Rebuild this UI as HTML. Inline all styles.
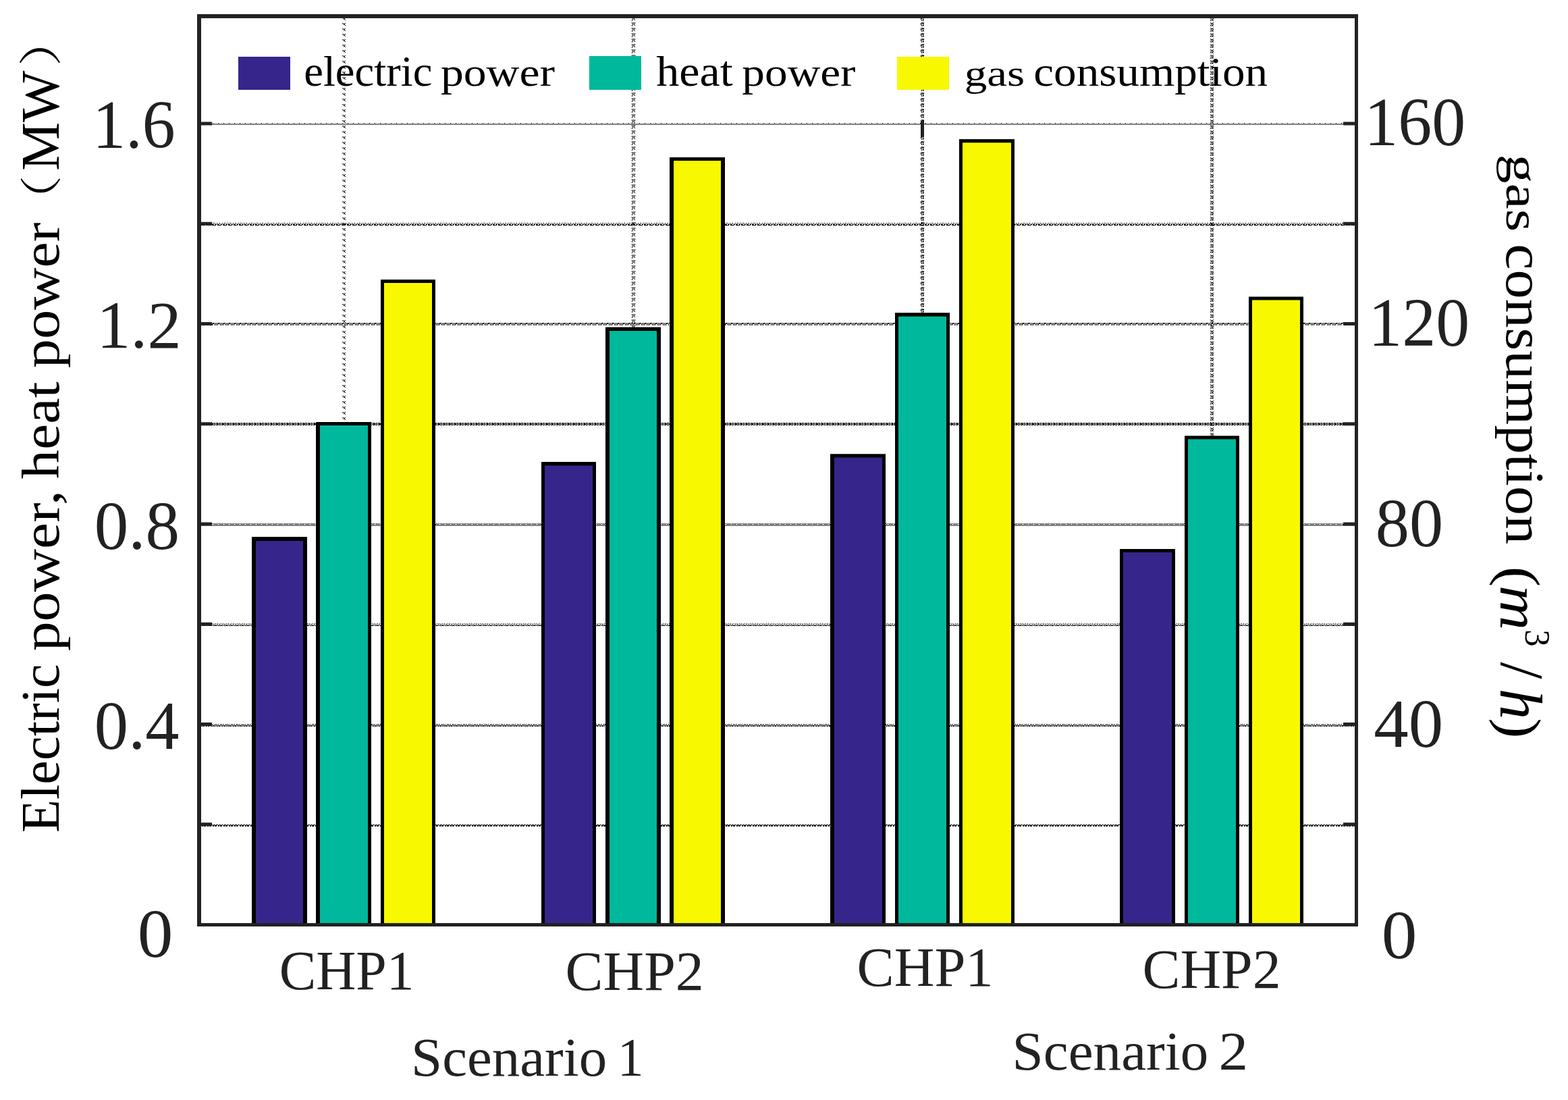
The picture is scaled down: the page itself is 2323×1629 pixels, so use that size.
<!DOCTYPE html>
<html lang="en">
<head>
<meta charset="utf-8">
<title>CHP electric power, heat power and gas consumption by scenario</title>
<style>
html,body{margin:0;padding:0;background:#fff;}
body{width:2323px;height:1629px;overflow:hidden;}
svg{display:block;}
text{white-space:pre;}
</style>
</head>
<body>
<svg xmlns="http://www.w3.org/2000/svg" width="2323" height="1629" viewBox="0 0 2323 1629">
<defs>
<pattern id="h0" x="4" y="182" width="8" height="3" patternUnits="userSpaceOnUse"><path d="M7 0h1v1h-1zM1 1h1v1h-1zM3 1h1v1h-1zM5 1h1v1h-1zM7 1h1v1h-1zM0 2h1v1h-1zM2 2h1v1h-1zM4 2h1v1h-1zM6 2h1v1h-1z" fill="#000"/></pattern>
<pattern id="h1" x="4" y="330" width="8" height="4" patternUnits="userSpaceOnUse"><path d="M0 0h2v1h-2zM5 0h1v1h-1zM3 1h1v1h-1zM6 1h1v1h-1zM0 2h1v1h-1zM3 2h2v1h-2zM6 2h2v1h-2zM0 3h4v1h-4zM6 3h2v1h-2z" fill="#000"/></pattern>
<pattern id="h2" x="4" y="478" width="8" height="4" patternUnits="userSpaceOnUse"><path d="M0 0h2v1h-2zM3 0h1v1h-1zM5 0h1v1h-1zM7 0h1v1h-1zM0 1h1v1h-1zM2 1h1v1h-1zM4 1h1v1h-1zM6 1h2v1h-2zM2 2h1v1h-1zM4 2h1v1h-1zM6 2h1v1h-1zM2 3h1v1h-1zM4 3h1v1h-1zM6 3h1v1h-1z" fill="#000"/></pattern>
<pattern id="h3" x="4" y="626" width="8" height="4" patternUnits="userSpaceOnUse"><path d="M0 0h3v1h-3zM4 0h3v1h-3zM1 1h1v1h-1zM3 1h1v1h-1zM5 1h3v1h-3zM1 2h1v1h-1zM3 2h1v1h-1zM5 2h3v1h-3zM0 3h3v1h-3zM4 3h3v1h-3z" fill="#000"/></pattern>
<pattern id="h4" x="4" y="775" width="8" height="4" patternUnits="userSpaceOnUse"><path d="M0 0h1v1h-1zM2 0h1v1h-1zM4 0h1v1h-1zM6 0h1v1h-1zM1 1h1v1h-1zM3 1h1v1h-1zM5 1h1v1h-1zM1 2h1v1h-1zM3 2h1v1h-1zM5 2h1v1h-1zM7 2h1v1h-1zM0 3h1v1h-1zM2 3h1v1h-1zM4 3h1v1h-1zM6 3h1v1h-1z" fill="#000"/></pattern>
<pattern id="h5" x="4" y="923" width="8" height="4" patternUnits="userSpaceOnUse"><path d="M3 0h1v1h-1zM6 0h1v1h-1zM0 1h2v1h-2zM5 1h1v1h-1zM3 2h1v1h-1zM6 2h1v1h-1zM0 3h6v1h-6zM7 3h1v1h-1z" fill="#000"/></pattern>
<pattern id="h6" x="4" y="1072" width="8" height="4" patternUnits="userSpaceOnUse"><path d="M2 0h1v1h-1zM4 0h1v1h-1zM7 0h1v1h-1zM2 1h1v1h-1zM4 1h1v1h-1zM6 1h1v1h-1zM0 2h2v1h-2zM3 2h1v1h-1zM5 2h1v1h-1zM7 2h1v1h-1zM0 3h2v1h-2zM3 3h1v1h-1zM5 3h2v1h-2z" fill="#000"/></pattern>
<pattern id="h7" x="4" y="1221" width="8" height="3" patternUnits="userSpaceOnUse"><path d="M0 0h3v1h-3zM4 0h3v1h-3zM0 1h1v1h-1zM2 1h3v1h-3zM7 1h1v1h-1zM0 2h1v1h-1zM2 2h3v1h-3zM7 2h1v1h-1z" fill="#000"/></pattern>
<pattern id="v0" x="507" y="2" width="5" height="8" patternUnits="userSpaceOnUse"><path d="M0 0h1v1h-1zM2 0h1v1h-1zM4 0h1v1h-1zM1 1h1v1h-1zM3 1h1v1h-1zM2 2h2v1h-2zM4 3h1v1h-1z" fill="#000"/></pattern>
<pattern id="v1" x="936" y="1" width="5" height="8" patternUnits="userSpaceOnUse"><path d="M0 0h1v1h-1zM2 0h1v1h-1zM4 0h1v1h-1zM0 1h1v1h-1zM2 1h1v1h-1zM4 1h1v1h-1zM1 2h1v1h-1zM3 2h1v1h-1zM1 3h1v1h-1zM3 3h1v1h-1zM0 4h1v1h-1zM4 4h1v1h-1zM0 5h1v1h-1z" fill="#000"/></pattern>
<pattern id="v2" x="1364" y="1" width="5" height="8" patternUnits="userSpaceOnUse"><path d="M1 0h2v1h-2zM4 0h1v1h-1zM0 1h1v1h-1zM2 1h3v1h-3zM0 2h2v1h-2zM3 2h1v1h-1zM0 3h1v1h-1zM3 3h1v1h-1zM1 4h1v1h-1zM3 4h2v1h-2zM1 5h1v1h-1zM3 5h1v1h-1z" fill="#000"/></pattern>
<pattern id="v3" x="1793" y="1" width="5" height="8" patternUnits="userSpaceOnUse"><path d="M0 0h1v1h-1zM4 0h1v1h-1zM1 1h3v1h-3zM0 2h1v1h-1zM2 2h1v1h-1zM4 2h1v1h-1zM2 3h1v1h-1zM4 3h1v1h-1zM0 4h1v1h-1zM2 4h2v1h-2zM0 5h1v1h-1zM2 5h1v1h-1zM4 5h1v1h-1z" fill="#000"/></pattern>
</defs>
<rect x="0" y="0" width="2323" height="1629" fill="#fff"/>
<g shape-rendering="crispEdges">
<rect x="298" y="182" width="1709" height="3" fill="url(#h0)"/>
<rect x="298" y="330" width="1709" height="4" fill="url(#h1)"/>
<rect x="298" y="478" width="1709" height="4" fill="url(#h2)"/>
<rect x="298" y="626" width="1709" height="4" fill="url(#h3)"/>
<rect x="298" y="775" width="1709" height="4" fill="url(#h4)"/>
<rect x="298" y="923" width="1709" height="4" fill="url(#h5)"/>
<rect x="298" y="1072" width="1709" height="4" fill="url(#h6)"/>
<rect x="298" y="1221" width="1709" height="3" fill="url(#h7)"/>
<rect x="507" y="27" width="5" height="1340" fill="url(#v0)"/>
<rect x="936" y="27" width="5" height="1340" fill="url(#v1)"/>
<rect x="1364" y="27" width="5" height="1340" fill="url(#v2)"/>
<rect x="1793" y="27" width="5" height="1340" fill="url(#v3)"/>
<rect x="1364" y="179" width="5" height="24" fill="#222"/>
<rect x="353" y="84" width="77" height="49" fill="#36268B"/>
<rect x="873" y="83" width="77" height="50" fill="#00B89C"/>
<rect x="1328.7" y="84" width="77" height="49" fill="#F8F800"/>
</g>
<rect x="373" y="795" width="82" height="573" fill="#000"/>
<rect x="379" y="801" width="70" height="567" fill="#36268B"/>
<rect x="468" y="625" width="82" height="743" fill="#000"/>
<rect x="474" y="630" width="71" height="738" fill="#00B89C"/>
<rect x="564" y="414" width="81" height="954" fill="#000"/>
<rect x="569" y="419" width="71" height="949" fill="#F8F800"/>
<rect x="802" y="684" width="81" height="684" fill="#000"/>
<rect x="807" y="689.5" width="71" height="678.5" fill="#36268B"/>
<rect x="897" y="484.5" width="82" height="883.5" fill="#000"/>
<rect x="903" y="490" width="70" height="878" fill="#00B89C"/>
<rect x="992" y="233" width="82" height="1135" fill="#000"/>
<rect x="998" y="238" width="70" height="1130" fill="#F8F800"/>
<rect x="1230" y="672.3" width="82" height="695.7" fill="#000"/>
<rect x="1236" y="677.5" width="71" height="690.5" fill="#36268B"/>
<rect x="1326" y="463.2" width="81" height="904.8" fill="#000"/>
<rect x="1331" y="468.7" width="71" height="899.3" fill="#00B89C"/>
<rect x="1421" y="206.1" width="82" height="1161.9" fill="#000"/>
<rect x="1426" y="211.3" width="72" height="1156.7" fill="#F8F800"/>
<rect x="1659" y="813" width="82" height="555" fill="#000"/>
<rect x="1664" y="818" width="72" height="550" fill="#36268B"/>
<rect x="1755" y="645.4" width="81" height="722.6" fill="#000"/>
<rect x="1760" y="650.4" width="71" height="717.6" fill="#00B89C"/>
<rect x="1850" y="439.4" width="81" height="928.6" fill="#000"/>
<rect x="1855" y="444.4" width="71" height="923.6" fill="#F8F800"/>
<rect x="292" y="21" width="6" height="1351" fill="#222"/>
<rect x="2007" y="21" width="5" height="1351" fill="#222"/>
<rect x="292" y="21" width="1720" height="6" fill="#222"/>
<rect x="292" y="1367" width="1720" height="5" fill="#222"/>
<rect x="298" y="1218.25" width="16" height="5" fill="#222"/>
<rect x="1990" y="1218.25" width="17" height="5" fill="#222"/>
<rect x="298" y="1070.00" width="16" height="5" fill="#222"/>
<rect x="1990" y="1070.00" width="17" height="5" fill="#222"/>
<rect x="298" y="921.75" width="16" height="5" fill="#222"/>
<rect x="1990" y="921.75" width="17" height="5" fill="#222"/>
<rect x="298" y="773.50" width="16" height="5" fill="#222"/>
<rect x="1990" y="773.50" width="17" height="5" fill="#222"/>
<rect x="298" y="625.25" width="16" height="5" fill="#222"/>
<rect x="1990" y="625.25" width="17" height="5" fill="#222"/>
<rect x="298" y="477.00" width="16" height="5" fill="#222"/>
<rect x="1990" y="477.00" width="17" height="5" fill="#222"/>
<rect x="298" y="328.75" width="16" height="5" fill="#222"/>
<rect x="1990" y="328.75" width="17" height="5" fill="#222"/>
<rect x="298" y="180.50" width="16" height="5" fill="#222"/>
<rect x="1990" y="180.50" width="17" height="5" fill="#222"/>
<g id="labels">
<text transform="matrix(0.9776 0 0 1.0184 137.34 219.41)" font-family="'Liberation Serif', serif" font-size="100" fill="#222222">1.6</text>
<text transform="matrix(1.0048 0 0 1.0041 143.13 515.45)" font-family="'Liberation Serif', serif" font-size="100" fill="#222222">1.2</text>
<text transform="matrix(1.0108 0 0 1.0188 139.82 813.39)" font-family="'Liberation Serif', serif" font-size="100" fill="#222222">0.8</text>
<text transform="matrix(1.0058 0 0 1.0188 139.85 1109.39)" font-family="'Liberation Serif', serif" font-size="100" fill="#222222">0.4</text>
<text transform="matrix(1.0536 0 0 1.0188 203.66 1417.39)" font-family="'Liberation Serif', serif" font-size="100" fill="#222222">0</text>
<text transform="matrix(0.9998 0 0 1.0184 2021.17 215.41)" font-family="'Liberation Serif', serif" font-size="100" fill="#222222">160</text>
<text transform="matrix(0.9998 0 0 1.0184 2027.17 512.41)" font-family="'Liberation Serif', serif" font-size="100" fill="#222222">120</text>
<text transform="matrix(1.0031 0 0 1.0188 2037.84 809.39)" font-family="'Liberation Serif', serif" font-size="100" fill="#222222">80</text>
<text transform="matrix(1.0288 0 0 1.0188 2035.36 1106.39)" font-family="'Liberation Serif', serif" font-size="100" fill="#222222">40</text>
<text transform="matrix(1.0536 0 0 1.0188 2046.66 1419.39)" font-family="'Liberation Serif', serif" font-size="100" fill="#222222">0</text>
<text transform="matrix(0.6467 0 0 0.6323 450.18 127.00)" font-family="'Liberation Serif', serif" font-size="100" fill="#000000">electric</text>
<text transform="matrix(0.6770 0 0 0.5915 652.94 127.00)" font-family="'Liberation Serif', serif" font-size="100" fill="#000000">power</text>
<text transform="matrix(0.6809 0 0 0.6323 972.18 127.00)" font-family="'Liberation Serif', serif" font-size="100" fill="#000000">heat</text>
<text transform="matrix(0.6730 0 0 0.5915 1099.35 127.00)" font-family="'Liberation Serif', serif" font-size="100" fill="#000000">power</text>
<text transform="matrix(0.6717 0 0 0.5549 1428.67 127.00)" font-family="'Liberation Serif', serif" font-size="100" fill="#000000">gas</text>
<text transform="matrix(0.6715 0 0 0.6137 1531.30 127.00)" font-family="'Liberation Serif', serif" font-size="100" fill="#000000">consumption</text>
<text transform="matrix(0.8179 0 0 0.8148 413.63 1464.73)" font-family="'Liberation Serif', serif" font-size="100" fill="#222222">CHP1</text>
<text transform="matrix(0.8391 0 0 0.8208 837.57 1466.32)" font-family="'Liberation Serif', serif" font-size="100" fill="#222222">CHP2</text>
<text transform="matrix(0.8264 0 0 0.8148 1269.60 1459.73)" font-family="'Liberation Serif', serif" font-size="100" fill="#222222">CHP1</text>
<text transform="matrix(0.8390 0 0 0.8148 1692.57 1462.73)" font-family="'Liberation Serif', serif" font-size="100" fill="#222222">CHP2</text>
<text transform="matrix(0.8294 0 0 0.8068 609.01 1592.74)" font-family="'Liberation Serif', serif" font-size="100" fill="#222222">Scenario</text>
<text transform="matrix(0.7776 0 0 0.7955 914.85 1593.00)" font-family="'Liberation Serif', serif" font-size="100" fill="#222222">1</text>
<text transform="matrix(0.8312 0 0 0.8068 1499.60 1583.74)" font-family="'Liberation Serif', serif" font-size="100" fill="#222222">Scenario</text>
<text transform="matrix(0.8717 0 0 0.8016 1805.39 1584.00)" font-family="'Liberation Serif', serif" font-size="100" fill="#222222">2</text>
<text transform="translate(87.00 0) rotate(-90) matrix(0.8036 0 0 0.7970 -1233.06 0.00)" font-family="'Liberation Serif', serif" font-size="100" fill="#000000">Electric</text>
<text transform="translate(87.00 0) rotate(-90) matrix(0.8796 0 0 0.7730 -964.37 0.00)" font-family="'Liberation Serif', serif" font-size="100" fill="#000000">power,</text>
<text transform="translate(87.00 0) rotate(-90) matrix(0.8641 0 0 0.7822 -709.21 0.00)" font-family="'Liberation Serif', serif" font-size="100" fill="#000000">heat</text>
<text transform="translate(87.00 0) rotate(-90) matrix(0.8634 0 0 0.7730 -545.15 0.00)" font-family="'Liberation Serif', serif" font-size="100" fill="#000000">power</text>
<text transform="translate(87.00 0) rotate(-90) matrix(0.7379 0 0 0.6235 -333.36 -3.23)" font-family="'Liberation Serif', 'Noto Serif CJK SC', serif" font-size="100" fill="#000000">（</text>
<text transform="translate(87.00 0) rotate(-90) matrix(0.8093 0 0 0.8082 -252.87 0.00)" font-family="'Liberation Serif', serif" font-size="100" fill="#000000">MW</text>
<text transform="translate(87.00 0) rotate(-90) matrix(0.7841 0 0 0.6402 -98.52 -4.40)" font-family="'Liberation Serif', 'Noto Serif CJK SC', serif" font-size="100" fill="#000000">）</text>
<text transform="translate(2232.00 0) rotate(90) matrix(0.8603 0 0 0.6905 228.49 0.00)" font-family="'Liberation Serif', serif" font-size="100" fill="#000000">gas</text>
<text transform="translate(2232.00 0) rotate(90) matrix(0.8611 0 0 0.7953 361.30 0.00)" font-family="'Liberation Serif', serif" font-size="100" fill="#000000">consumption</text>
<text transform="translate(2223.00 0) rotate(90) matrix(0.9113 0 0 0.8271 838.63 -1.26)" font-family="'Liberation Serif', serif" font-size="100" fill="#000000">(</text>
<text transform="translate(2223.00 0) rotate(90) matrix(0.9156 0 0 0.8555 867.09 0.00)" font-family="'Liberation Serif', serif" font-size="100" fill="#000000" font-style="italic">m</text>
<text transform="translate(2223.00 0) rotate(90) matrix(0.5091 0 0 0.5259 932.20 -36.76)" font-family="'Liberation Serif', serif" font-size="100" fill="#000000">3</text>
<text transform="translate(2223.00 0) rotate(90) matrix(0.9032 0 0 0.9031 980.60 -1.41)" font-family="'Liberation Serif', serif" font-size="100" fill="#000000">/</text>
<text transform="translate(2223.00 0) rotate(90) matrix(0.9123 0 0 0.8823 1019.69 0.00)" font-family="'Liberation Serif', serif" font-size="100" fill="#000000" font-style="italic">h</text>
<text transform="translate(2223.00 0) rotate(90) matrix(0.9052 0 0 0.8380 1063.36 -1.49)" font-family="'Liberation Serif', serif" font-size="100" fill="#000000">)</text>
</g>
</svg>
</body>
</html>
